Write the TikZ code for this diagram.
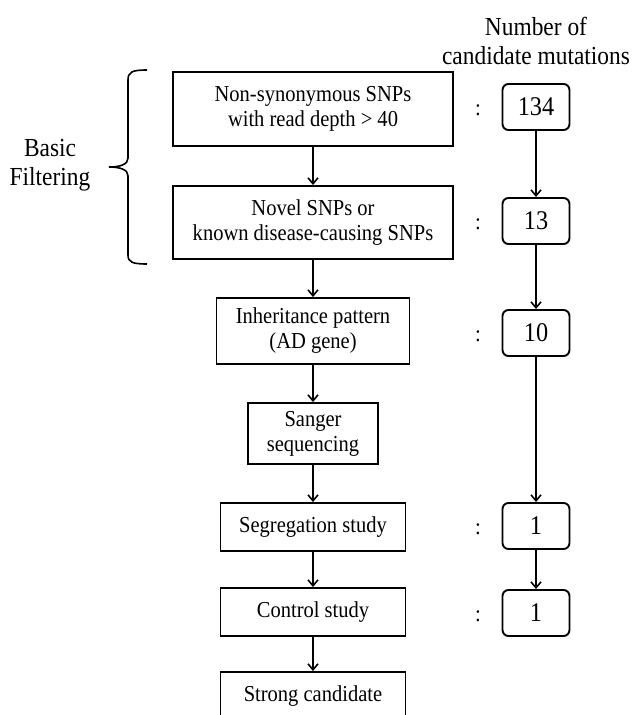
\documentclass[tikz,border=0pt]{standalone}
\usepackage{fontspec}
\setmainfont{Liberation Serif}[FakeStretch=0.9]
\usetikzlibrary{arrows.meta}
\tikzstyle{filterflow} = [
  x=1pt, y=-1pt,
  line width=1.9pt,
  >={Straight Barb[length=6pt,width=10pt,line width=1.6pt]},
]
\tikzstyle{stepbox} = [draw, rectangle, align=center, inner sep=0pt,
  font=\fontsize{22.8}{25}\selectfont]
\tikzstyle{countbox} = [draw, rounded corners=6pt, minimum width=67pt,
  minimum height=46pt, inner sep=0pt, font=\fontsize{27}{30}\selectfont]
\tikzstyle{sidetext} = [align=center, inner sep=0pt,
  font=\fontsize{26}{29}\selectfont]

\begin{document}
\begin{tikzpicture}[filterflow]
      \def\mainx{313}
      \def\countx{536}

      \clip (0,0) rectangle (633,715);

      % Steps
      \node[stepbox, minimum width=280pt, minimum height=74pt] (nonsyn) at (\mainx,109)
        {Non-synonymous SNPs\\with read depth > 40};
      \node[stepbox, minimum width=280pt, minimum height=73pt] (novel) at (\mainx,222.5)
        {Novel SNPs or\\known disease-causing SNPs};
      \node[stepbox, minimum width=193pt, minimum height=66pt] (inherit) at (\mainx,331)
        {Inheritance pattern\\(AD gene)};
      \node[stepbox, minimum width=130pt, minimum height=61pt] (sanger) at (\mainx,433.5)
        {Sanger\\sequencing};
      \node[stepbox, minimum width=185pt, minimum height=48pt] (segreg) at (\mainx,527)
        {Segregation study};
      \node[stepbox, minimum width=185pt, minimum height=48pt] (control) at (\mainx,612)
        {Control study};
      \node[stepbox, minimum width=185pt, minimum height=48pt] (strong) at (\mainx,696)
        {Strong candidate};

      % Counts
      \node[sidetext] (counthead) at (\countx,41) {Number of\\candidate mutations};
      \node[countbox] (c134) at (\countx,107) {134};
      \node[countbox] (c13) at (\countx,221) {13};
      \node[countbox] (c10) at (\countx,333) {10};
      \node[countbox] (c1a) at (\countx,526) {1};
      \node[countbox] (c1b) at (\countx,613) {1};
      \foreach \name/\y in {nonsyn/107, novel/221, inherit/333, segreg/526, control/613}
        \node[sidetext, font=\fontsize{23}{26}\selectfont] (colon-\name) at (478,\y+3) {:};

      % Arrows
      \foreach \a/\b in {nonsyn/novel, novel/inherit, inherit/sanger, sanger/segreg,
                         segreg/control, control/strong, c134/c13, c13/c10, c10/c1a, c1a/c1b}
        \draw[->] (\a.south) -- (\b.north);

      % Brace
      \node[sidetext] (basic) at (50,165) {Basic\\Filtering};
      \draw[line width=1.6pt] (147,70) .. controls (132,70) and (128,72) .. (128,80)
        -- (128,158) .. controls (128,164) and (121,167) .. (109,167)
        .. controls (121,167) and (128,170) .. (128,176)
        -- (128,255) .. controls (128,262) and (132,264) .. (147,264);
\end{tikzpicture}
\end{document}
